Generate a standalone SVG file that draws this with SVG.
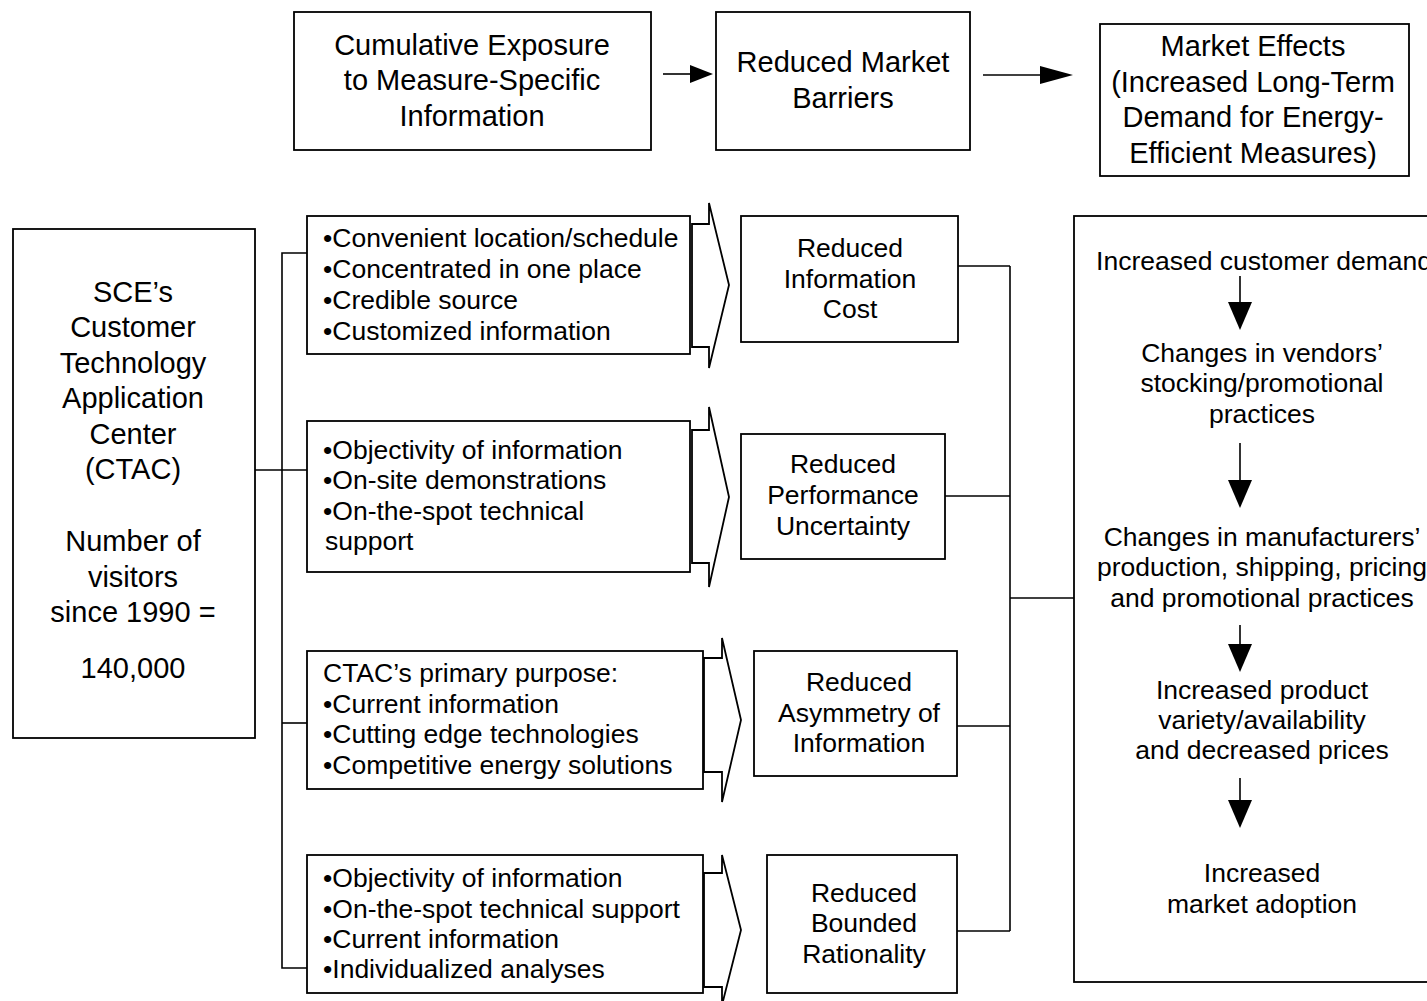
<svg xmlns="http://www.w3.org/2000/svg" width="1427" height="1001" viewBox="0 0 1427 1001">
<style>
.box{fill:#fff;stroke:#000;stroke-width:1.8}
.chev{fill:#fff;stroke:#000;stroke-width:1.8;stroke-linejoin:miter}
.ln{fill:none;stroke:#000;stroke-width:1.6}
text{font-family:"Liberation Sans",Arial,sans-serif;fill:#000}
.big{font-size:29px;text-anchor:middle}
.mid{font-size:26.5px;text-anchor:middle}
.bul{font-size:26.5px}
</style>
<rect width="1427" height="1001" fill="#fff"/>
<g id="connectors">
<line class="ln" x1="663" y1="74" x2="695" y2="74"/>
<polygon points="713,74 690,65 690,83" fill="#000"/>
<line class="ln" x1="983" y1="75" x2="1045" y2="75"/>
<polygon points="1073,75 1040,66 1040,84" fill="#000"/>
<polyline class="ln" points="255,470 307,470"/>
<polyline class="ln" points="307,253 282,253 282,968 307,968"/>
<line class="ln" x1="282" y1="723" x2="307" y2="723"/>
<line class="ln" x1="958" y1="266" x2="1010" y2="266"/>
<line class="ln" x1="945" y1="496" x2="1010" y2="496"/>
<line class="ln" x1="957" y1="726" x2="1010" y2="726"/>
<line class="ln" x1="957" y1="931" x2="1010" y2="931"/>
<line class="ln" x1="1010" y1="266" x2="1010" y2="931"/>
<line class="ln" x1="1010" y1="598" x2="1074" y2="598"/>
</g>
<g id="n-exposure">
<rect class="box" x="294" y="12" width="357" height="138"/>
<text class="big" x="472" y="55">Cumulative Exposure</text>
<text class="big" x="472" y="90">to Measure-Specific</text>
<text class="big" x="472" y="126">Information</text>
</g>
<g id="n-barriers">
<rect class="box" x="716" y="12" width="254" height="138"/>
<text class="big" x="843" y="72">Reduced Market</text>
<text class="big" x="843" y="108">Barriers</text>
</g>
<g id="n-effects">
<rect class="box" x="1100" y="24" width="309" height="152"/>
<text class="big" x="1253" y="56">Market Effects</text>
<text class="big" x="1253" y="92">(Increased Long-Term</text>
<text class="big" x="1253" y="127">Demand for Energy-</text>
<text class="big" x="1253" y="163">Efficient Measures)</text>
</g>
<g id="n-ctac">
<rect class="box" x="13" y="229" width="242" height="509"/>
<text class="big" x="133" y="302">SCE’s</text>
<text class="big" x="133" y="337">Customer</text>
<text class="big" x="133" y="373">Technology</text>
<text class="big" x="133" y="408">Application</text>
<text class="big" x="133" y="444">Center</text>
<text class="big" x="133" y="479">(CTAC)</text>
<text class="big" x="133" y="551">Number of</text>
<text class="big" x="133" y="587">visitors</text>
<text class="big" x="133" y="622">since 1990 =</text>
<text class="big" x="133" y="678">140,000</text>
</g>
<g id="n-list1">
<rect class="box" x="307" y="216" width="383" height="138"/>
<text class="bul" x="323" y="247">•Convenient location/schedule</text>
<text class="bul" x="323" y="278">•Concentrated in one place</text>
<text class="bul" x="323" y="309">•Credible source</text>
<text class="bul" x="323" y="340">•Customized information</text>
<polygon class="chev" points="692,224 709,224 709,203 729,285 709,368 709,347 692,347"/>
</g>
<g id="n-list2">
<rect class="box" x="307" y="421" width="383" height="151"/>
<text class="bul" x="323" y="459">•Objectivity of information</text>
<text class="bul" x="323" y="489">•On-site demonstrations</text>
<text class="bul" x="323" y="520">•On-the-spot technical</text>
<text class="bul" x="325" y="550">support</text>
<polygon class="chev" points="692,430 709,430 709,407 729,497 709,587 709,563 692,563"/>
</g>
<g id="n-list3">
<rect class="box" x="307" y="651" width="396" height="138"/>
<text class="bul" x="323" y="682">CTAC’s primary purpose:</text>
<text class="bul" x="323" y="713">•Current information</text>
<text class="bul" x="323" y="743">•Cutting edge technologies</text>
<text class="bul" x="323" y="774">•Competitive energy solutions</text>
<polygon class="chev" points="704,658 722,658 722,638 741,720 722,802 722,772 704,772"/>
</g>
<g id="n-list4">
<rect class="box" x="307" y="855" width="396" height="138"/>
<text class="bul" x="323" y="887">•Objectivity of information</text>
<text class="bul" x="323" y="918">•On-the-spot technical support</text>
<text class="bul" x="323" y="948">•Current information</text>
<text class="bul" x="323" y="978">•Individualized analyses</text>
<polygon class="chev" points="704,873 722,873 722,855 741,930 722,1005 722,987 704,987"/>
</g>
<g id="n-infocost">
<rect class="box" x="741" y="216" width="217" height="126"/>
<text class="mid" x="850" y="257">Reduced</text>
<text class="mid" x="850" y="288">Information</text>
<text class="mid" x="850" y="318">Cost</text>
</g>
<g id="n-perf">
<rect class="box" x="741" y="434" width="204" height="125"/>
<text class="mid" x="843" y="473">Reduced</text>
<text class="mid" x="843" y="504">Performance</text>
<text class="mid" x="843" y="535">Uncertainty</text>
</g>
<g id="n-asym">
<rect class="box" x="754" y="651" width="203" height="125"/>
<text class="mid" x="859" y="691">Reduced</text>
<text class="mid" x="859" y="722">Asymmetry of</text>
<text class="mid" x="859" y="752">Information</text>
</g>
<g id="n-bounded">
<rect class="box" x="767" y="855" width="190" height="138"/>
<text class="mid" x="864" y="902">Reduced</text>
<text class="mid" x="864" y="932">Bounded</text>
<text class="mid" x="864" y="963">Rationality</text>
</g>
<g id="n-market">
<rect class="box" x="1074" y="216" width="380" height="766"/>
<text class="mid" x="1264" y="270">Increased customer demand</text>
<line class="ln" x1="1240" y1="276" x2="1240" y2="305"/>
<polygon points="1240,330 1228,302 1252,302" fill="#000"/>
<text class="mid" x="1262" y="362">Changes in vendors’</text>
<text class="mid" x="1262" y="392">stocking/promotional</text>
<text class="mid" x="1262" y="423">practices</text>
<line class="ln" x1="1240" y1="443" x2="1240" y2="482"/>
<polygon points="1240,508 1228,480 1252,480" fill="#000"/>
<text class="mid" x="1262" y="546">Changes in manufacturers’</text>
<text class="mid" x="1262" y="576">production, shipping, pricing</text>
<text class="mid" x="1262" y="607">and promotional practices</text>
<line class="ln" x1="1240" y1="625" x2="1240" y2="646"/>
<polygon points="1240,672 1228,644 1252,644" fill="#000"/>
<text class="mid" x="1262" y="699">Increased product</text>
<text class="mid" x="1262" y="729">variety/availability</text>
<text class="mid" x="1262" y="759">and decreased prices</text>
<line class="ln" x1="1240" y1="778" x2="1240" y2="802"/>
<polygon points="1240,828 1228,800 1252,800" fill="#000"/>
<text class="mid" x="1262" y="882">Increased</text>
<text class="mid" x="1262" y="913">market adoption</text>
</g>
</svg>
